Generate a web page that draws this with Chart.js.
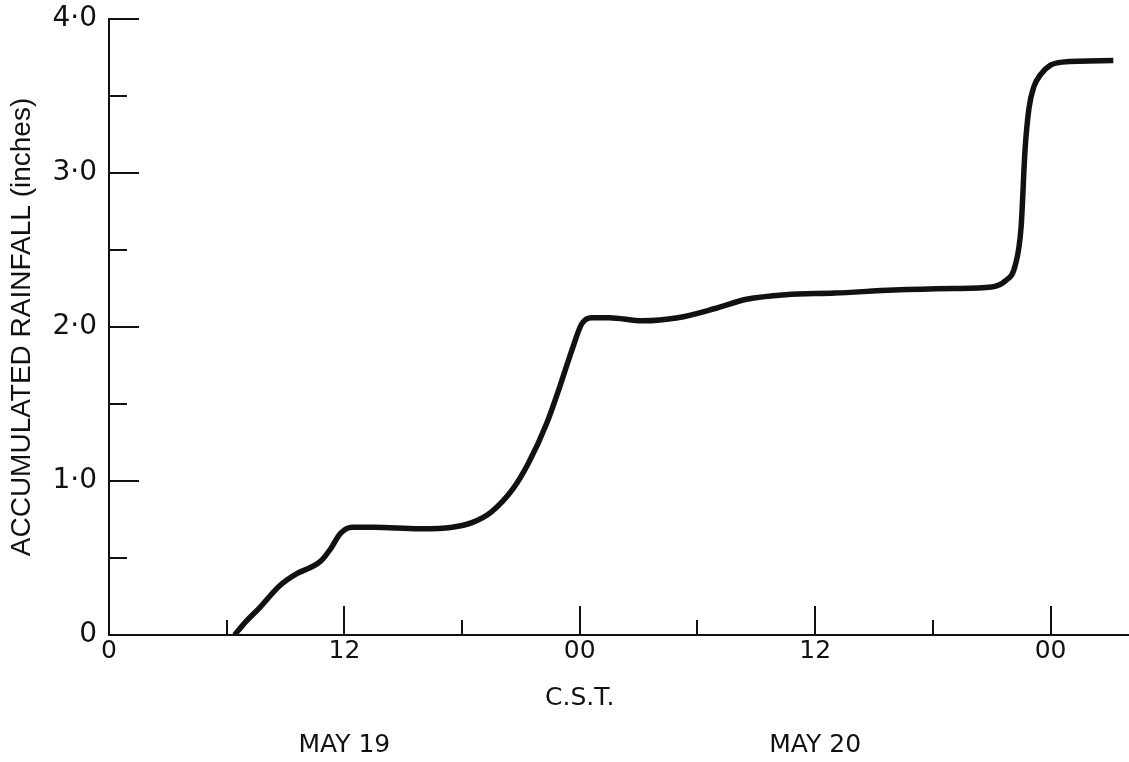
<!DOCTYPE html>
<html>
<head>
<meta charset="utf-8">
<script src="https://cdn.jsdelivr.net/npm/chart.js@4"></script>
<style>
  html, body { margin: 0; padding: 0; background: #fff; }
  canvas { display: block; }
</style>
</head>
<body>
<canvas id="rainChart" width="1129" height="762"></canvas>
<script>
// hours after 00 C.S.T. May 19
var hours = [6.4, 7.0, 7.7, 8.7, 9.6, 10.3, 10.8, 11.3, 11.8, 12.4, 13.5, 15.8, 17.5, 18.5, 19.5,
             20.6, 21.4, 22.3, 23.0, 23.6, 24.1, 24.6, 25.5, 27.2, 29.0, 30.9, 32.5, 34.5, 37.0,
             40.0, 43.0, 45.0, 45.7, 46.2, 46.5, 46.7, 46.9, 47.15, 47.5, 48.0, 48.6, 51.2];
// accumulated rainfall (inches)
var rainfall = [0, 0.09, 0.18, 0.32, 0.40, 0.44, 0.48, 0.56, 0.66, 0.70, 0.70, 0.69, 0.70, 0.73, 0.80,
                0.95, 1.12, 1.37, 1.62, 1.85, 2.02, 2.06, 2.06, 2.04, 2.06, 2.12, 2.18, 2.21, 2.22,
                2.24, 2.25, 2.26, 2.30, 2.40, 2.65, 3.15, 3.42, 3.56, 3.64, 3.70, 3.72, 3.73];

// tick labels
var xLabels = { 0: ['0'], 12: ['12', '', '', '', 'MAY 19'], 24: ['00', '', 'C.S.T.'], 36: ['12', '', '', '', 'MAY 20'], 48: ['00'] };
var yLabels = { 0: '0', 1: '1·0', 2: '2·0', 3: '3·0', 4: '4·0' };

var points = hours.map(function (h, i) { return { x: h, y: rainfall[i] }; });

var ink = '#111';

// inward pointing tick marks, placed with the scales
var tickMarks = {
    id: 'tickMarks',
    afterDraw: function (chart) {
        var ctx = chart.ctx, x = chart.scales.x, y = chart.scales.y;
        ctx.save();
        ctx.strokeStyle = ink;
        ctx.lineWidth = 2;
        ctx.beginPath();
        y.ticks.forEach(function (t) {
            var py = Math.round(y.getPixelForValue(t.value));
            var len = t.value % 1 === 0 ? 30 : 18;
            ctx.moveTo(x.left, py);
            ctx.lineTo(x.left + len, py);
        });
        x.ticks.forEach(function (t) {
            var px = Math.round(x.getPixelForValue(t.value));
            var len = t.value % 12 === 0 ? 29 : 15;
            ctx.moveTo(px, y.bottom);
            ctx.lineTo(px, y.bottom - len);
        });
        ctx.stroke();
        ctx.restore();
    }
};

var ctx = document.getElementById('rainChart').getContext('2d');
var myChart = new Chart(ctx, {
    type: 'line',
    data: {
        datasets: [{
            label: 'Accumulated rainfall',
            data: points,
            borderColor: ink,
            borderWidth: 5.5,
            pointRadius: 0,
            fill: false,
            cubicInterpolationMode: 'monotone'
        }]
    },
    options: {
        responsive: false,
        animation: false,
        layout: { padding: { top: 19, right: 0, bottom: 0, left: 0 } },
        plugins: {
            legend: { display: false },
            tooltip: { enabled: false }
        },
        scales: {
            x: {
                type: 'linear',
                min: 0,
                max: 52,
                afterFit: function (s) { s.height = 127; s.paddingLeft = 0; s.paddingRight = 0; },
                grid: { display: false, drawTicks: false },
                border: { display: true, color: ink, width: 2 },
                ticks: {
                    stepSize: 6,
                    includeBounds: false,
                    autoSkip: false,
                    maxRotation: 0,
                    padding: 5,
                    color: ink,
                    font: { family: 'DejaVu Sans', size: 25, lineHeight: '23.5px' },
                    callback: function (v) { return xLabels[v] || ''; }
                }
            },
            y: {
                min: 0,
                max: 4,
                afterFit: function (s) { s.width = 109; s.paddingTop = 0; s.paddingBottom = 0; },
                grid: { display: false, drawTicks: false },
                border: { display: true, color: ink, width: 2 },
                ticks: {
                    stepSize: 0.5,
                    autoSkip: false,
                    padding: 12,
                    color: ink,
                    font: { family: 'DejaVu Sans', size: 28 },
                    callback: function (v) { return yLabels[v] !== undefined ? yLabels[v] : ''; }
                },
                title: {
                    display: true,
                    text: 'ACCUMULATED RAINFALL (inches)',
                    color: ink,
                    padding: { top: 5, bottom: 0 },
                    font: { family: 'Liberation Sans', size: 28, lineHeight: 1.2 }
                }
            }
        }
    },
    plugins: [tickMarks]
});
</script>
</body>
</html>
